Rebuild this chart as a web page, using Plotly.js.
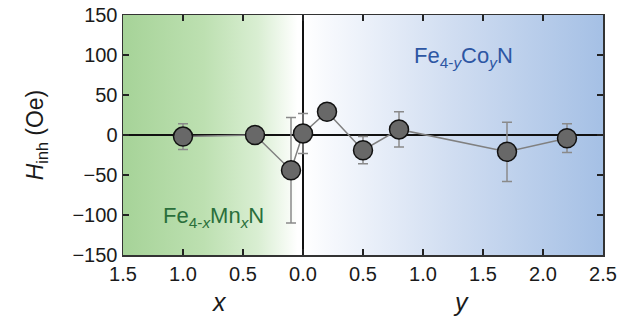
<!DOCTYPE html>
<html>
<head>
<meta charset="utf-8">
<script src="https://cdn.plot.ly/plotly-3.0.1.min.js"></script>
<style>html,body{margin:0;padding:0;background:#fff;}#chart{width:626px;height:322px;}</style>
</head>
<body>
<div id="chart"></div>
<script>
// composition (negative = Mn content x, positive = Co content y)
const composition = [-1.0, -0.4, -0.1, 0.0, 0.2, 0.5, 0.8, 1.7, 2.2];
const hInh = [-2, 0, -44, 2, 29, -19, 7, -21, -4];
const hErr = [16, 0, 66, 25, 0, 17, 22, 37, 18];
const tickVals = [-1.5, -1.0, -0.5, 0.0, 0.5, 1.0, 1.5, 2.0, 2.5];
const tickText = ['1.5', '1.0', '0.5', '0.0', '0.5', '1.0', '1.5', '2.0', '2.5'];
const yTicks = [-150, -100, -50, 0, 50, 100, 150];

function gradSvg(stops) {
  const s = stops.map(p => `<stop offset="${p[0]}" stop-color="${p[1]}"/>`).join('');
  const svg = `<svg xmlns="http://www.w3.org/2000/svg" width="200" height="100" viewBox="0 0 200 100" preserveAspectRatio="none"><defs><linearGradient id="g" x1="0" y1="0" x2="1" y2="0">${s}</linearGradient></defs><rect x="0" y="0" width="200" height="100" fill="url(#g)"/></svg>`;
  return 'data:image/svg+xml;charset=utf-8,' + encodeURIComponent(svg);
}
const greenSrc = gradSvg([[0, '#a6d398'], [0.45, '#bde0b1'], [0.75, '#d9eed2'], [0.97, '#ffffff'], [1, '#ffffff']]);
const blueSrc = gradSvg([[0, '#ffffff'], [0.08, '#f7f9fd'], [0.5, '#d0ddf1'], [1, '#a5c0e5']]);

const trace = {
  x: composition, y: hInh, type: 'scatter', mode: 'lines+markers',
  line: {color: '#808080', width: 1.5},
  marker: {size: 19, color: '#686868', line: {color: '#111', width: 1.5}},
  error_y: {type: 'data', array: hErr, visible: true, color: '#8a8a8a', thickness: 1.5, width: 5},
  hoverinfo: 'skip', showlegend: false
};

const layout = {
  width: 626, height: 322,
  margin: {l: 123, r: 23, t: 15, b: 67},
  paper_bgcolor: '#ffffff', plot_bgcolor: 'rgba(0,0,0,0)',
  font: {family: 'Liberation Sans, Arial, sans-serif', color: '#1a1a1a', size: 20},
  xaxis: {
    range: [-1.5, 2.5], tickvals: tickVals, ticktext: tickText,
    ticks: 'inside', ticklen: 6, tickwidth: 1.5, tickcolor: '#222',
    showline: true, linecolor: '#333', linewidth: 1.5, mirror: 'ticks',
    showgrid: false, zeroline: true, zerolinecolor: '#111', zerolinewidth: 1.5,
    tickfont: {size: 20}, fixedrange: true
  },
  yaxis: {
    range: [-150, 150], tickvals: yTicks,
    ticks: 'inside', ticklen: 6, tickwidth: 1.5, tickcolor: '#222',
    showline: true, linecolor: '#333', linewidth: 1.5, mirror: 'ticks',
    showgrid: false, zeroline: true, zerolinecolor: '#111', zerolinewidth: 1.5,
    tickfont: {size: 20},
    title: {text: '<i>H</i><sub>inh</sub> (Oe)', font: {size: 23}, standoff: 22},
    fixedrange: true
  },
  images: [
    {source: greenSrc, xref: 'x', yref: 'paper', x: -1.5, y: 1, sizex: 1.5, sizey: 1, sizing: 'stretch', xanchor: 'left', yanchor: 'top', layer: 'below'},
    {source: blueSrc, xref: 'x', yref: 'paper', x: 0, y: 1, sizex: 2.5, sizey: 1, sizing: 'stretch', xanchor: 'left', yanchor: 'top', layer: 'below'}
  ],
  annotations: [
    {text: 'Fe<sub>4-<i>y</i></sub>Co<sub><i>y</i></sub>N', xref: 'x', yref: 'y', x: 1.34, y: 97, showarrow: false, font: {size: 22, color: '#2d56a3'}},
    {text: 'Fe<sub>4-<i>x</i></sub>Mn<sub><i>x</i></sub>N', xref: 'x', yref: 'y', x: -0.75, y: -102, showarrow: false, font: {size: 22, color: '#2a6f3b'}},
    {text: '<i>x</i>', xref: 'x', yref: 'paper', x: -0.7, y: -0.195, yanchor: 'middle', showarrow: false, font: {size: 25}},
    {text: '<i>y</i>', xref: 'x', yref: 'paper', x: 1.32, y: -0.195, yanchor: 'middle', showarrow: false, font: {size: 25}}
  ]
};

Plotly.newPlot('chart', [trace], layout, {staticPlot: true, displayModeBar: false});
</script>
</body>
</html>
